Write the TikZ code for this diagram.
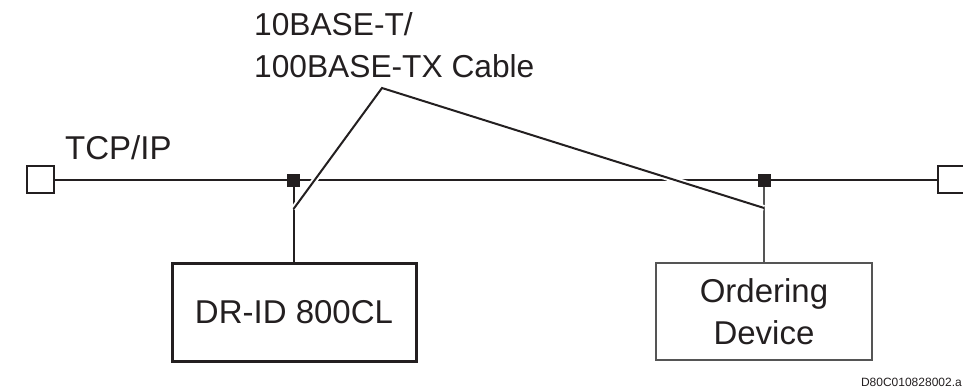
\documentclass[tikz,border=0pt]{standalone}
\usepackage{fontspec}
\setmainfont{Liberation Sans}
\definecolor{ink}{HTML}{231F20}
\definecolor{thin}{HTML}{555555}
\begin{document}
\begin{tikzpicture}[x=1pt,y=-1pt,
  txt/.style={font=\fontsize{33}{42}\selectfont, text=ink, inner sep=0pt},
  cabtxt/.style={font=\fontsize{31.7}{42}\selectfont, text=ink, inner sep=0pt},
  term/.style={draw=ink, line width=1.5pt, fill=white, minimum size=27pt, inner sep=0pt},
  junc/.style={fill=ink, minimum size=13pt, inner sep=0pt},
  wire/.style={draw=ink, line width=2pt},
  halo/.style={draw=white, line width=6pt},
  cable/.style={draw=ink, line width=2pt},
  boxA/.style={draw=ink, line width=3pt, minimum width=244pt, minimum height=98pt, inner sep=0pt, font=\fontsize{33}{42}\selectfont, text=ink},
  boxB/.style={draw=thin, line width=1.3pt, minimum width=216pt, minimum height=97pt, inner sep=0pt, align=center, font=\fontsize{33}{42}\selectfont, text=ink}
]
\useasboundingbox (0,0) rectangle (963,391);
\clip (0,0) rectangle (963,391);

% network line
\node[term] (tl) at (40.5,179.5) {};
\node[term] (tr) at (951.5,179.5) {};
\draw[wire] (tl.east) -- (tr.west);

% devices
\node[boxA] (dr) at (294,312) {DR-ID 800CL};
\node[boxB] (od) at (764,311.5) {Ordering\\Device};

% junctions
\node[junc] (j1) at (293.5,180) {};
\node[junc] (j2) at (764,180) {};
\draw[wire] (j1) -- (j1 |- dr.north);
\draw[draw=thin, line width=1.3pt] (j2) -- (j2 |- od.north);

% cable leader
\coordinate (apex) at (382,88);
\coordinate (c1) at (293.5,209);
\coordinate (c2) at (764,208);
\draw[halo] (c1) -- (apex) -- (c2);
\draw[cable, line join=miter] (c1) -- (apex) -- (c2);

% labels
\node[txt, anchor=base west] (tcp) at (65,159) {TCP/IP};
\node[cabtxt, anchor=base west] (cab1) at (254,35) {10BASE-T/};
\node[cabtxt, anchor=base west] (cab2) at (254,77) {100BASE-TX Cable};
\node[font=\fontsize{12}{14}\selectfont, text=ink, inner sep=0pt, anchor=base east] (ref) at (962,386) {D80C010828002.a};
\end{tikzpicture}
\end{document}
